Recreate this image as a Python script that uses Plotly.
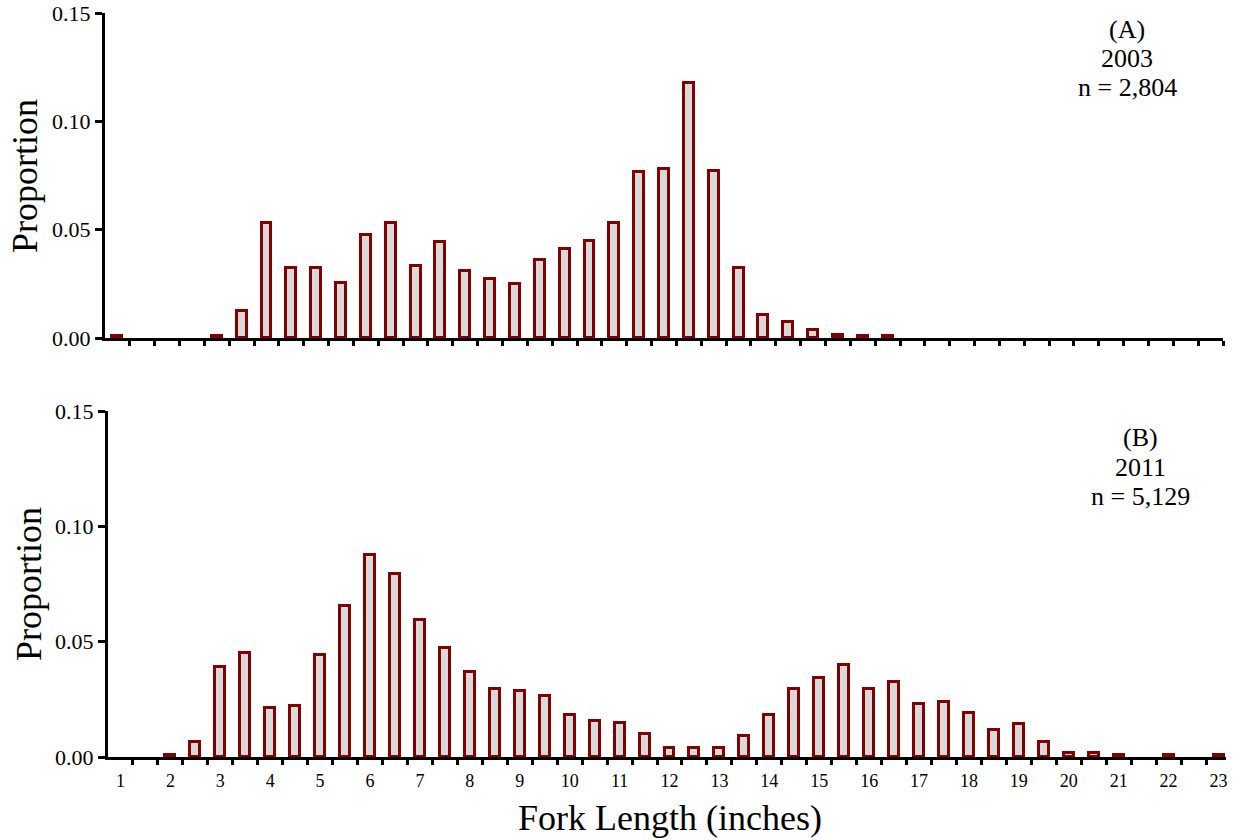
import plotly.graph_objects as go

# Fork length bins (inches), every half inch
lengths = [1 + 0.5 * i for i in range(45)]  # 1.0 .. 23.0

# Panel A (2003) proportions, keyed by bin
prop_2003 = {
    1.0: 0.0008, 3.0: 0.0008, 3.5: 0.0125, 4.0: 0.053, 4.5: 0.0325, 5.0: 0.0325,
    5.5: 0.0256, 6.0: 0.0474, 6.5: 0.053, 7.0: 0.0334, 7.5: 0.0442, 8.0: 0.031,
    8.5: 0.0273, 9.0: 0.0247, 9.5: 0.036, 10.0: 0.0413, 10.5: 0.0448, 11.0: 0.0529,
    11.5: 0.0764, 12.0: 0.0782, 12.5: 0.1178, 13.0: 0.0772, 13.5: 0.0325,
    14.0: 0.0106, 14.5: 0.0072, 15.0: 0.0035, 15.5: 0.0015, 16.0: 0.0008, 16.5: 0.0008,
}

# Panel B (2011) proportions
prop_2011 = {
    2.0: 0.0008, 2.5: 0.0066, 3.0: 0.0392, 3.5: 0.0449, 4.0: 0.0213, 4.5: 0.0221,
    5.0: 0.0442, 5.5: 0.0653, 6.0: 0.0875, 6.5: 0.0792, 7.0: 0.0596, 7.5: 0.0473,
    8.0: 0.0367, 8.5: 0.0294, 9.0: 0.0286, 9.5: 0.0263, 10.0: 0.0181, 10.5: 0.0156,
    11.0: 0.0147, 11.5: 0.0099, 12.0: 0.0041, 12.5: 0.0041, 13.0: 0.0041, 13.5: 0.009,
    14.0: 0.0181, 14.5: 0.0294, 15.0: 0.0344, 15.5: 0.0401, 16.0: 0.0294, 16.5: 0.0327,
    17.0: 0.023, 17.5: 0.0238, 18.0: 0.019, 18.5: 0.0116, 19.0: 0.0142, 19.5: 0.0067,
    20.0: 0.0016, 20.5: 0.0016, 21.0: 0.0008, 22.0: 0.0008, 23.0: 0.0008,
}

x_labels = [str(i) for i in range(1, 24)]
x_label_pos = list(range(1, 24))
y_ticks = [0, 0.05, 0.10, 0.15]
y_ticktext = ["0.00", "0.05", "0.10", "0.15"]

FILL = "#d9d9d9"
EDGE = "#7f0000"
FONT = "Liberation Serif"

W, H = 1245, 840

def px_x(p):
    return p / W

def px_y(p):
    return (H - p) / H

fig = go.Figure()

xa = sorted(prop_2003.keys())
fig.add_trace(go.Bar(x=xa, y=[prop_2003[k] for k in xa], width=0.2,
                     marker=dict(color=FILL, line=dict(color=EDGE, width=3)),
                     xaxis="x", yaxis="y", showlegend=False))
xb = sorted(prop_2011.keys())
fig.add_trace(go.Bar(x=xb, y=[prop_2011[k] for k in xb], width=0.2,
                     marker=dict(color=FILL, line=dict(color=EDGE, width=3)),
                     xaxis="x2", yaxis="y2", showlegend=False))

minor_top = [n + f for n in range(1, 24) for f in (0.25, 0.75) if n + f <= 23.25]
minor_bot = [n + f for n in range(1, 23) for f in (0.25, 0.75)]

common_y = dict(range=[0, 0.15], tickvals=y_ticks, ticktext=y_ticktext, automargin=False,
                showline=True, linecolor="black", linewidth=3, ticks="outside", ticklen=7,
                tickwidth=3, tickcolor="black", showgrid=False, zeroline=False,
                tickfont=dict(family=FONT, size=22, color="black"))

fig.update_layout(
    width=W, height=H,
    margin=dict(l=0, r=0, t=0, b=0),
    paper_bgcolor="white", plot_bgcolor="white",
    bargap=0,
    xaxis=dict(domain=[px_x(105), px_x(1223)], range=[0.75, 23.25], anchor="y", automargin=False,
               showline=True, linecolor="black", linewidth=3, showgrid=False, zeroline=False,
               tickvals=x_label_pos, ticks="", showticklabels=False,
               minor=dict(tickvals=minor_top, ticks="outside", ticklen=5, tickwidth=3, tickcolor="black", showgrid=False)),
    yaxis=dict(domain=[px_y(338), px_y(13)], anchor="x", **common_y),
    xaxis2=dict(domain=[px_x(108), px_x(1226)], range=[0.75, 23.15], anchor="y2", automargin=False,
                showline=True, linecolor="black", linewidth=3, showgrid=False, zeroline=False,
                tickvals=x_label_pos, ticktext=x_labels, ticks="", ticklabelstandoff=5,
                tickfont=dict(family=FONT, size=18, color="black"),
                minor=dict(tickvals=minor_bot, ticks="outside", ticklen=5, tickwidth=3, tickcolor="black", showgrid=False)),
    yaxis2=dict(domain=[px_y(757), px_y(411)], anchor="x2", **common_y),
)

def add_text(t, cx, cy, size, angle=0):
    fig.add_annotation(text=t, x=px_x(cx), y=px_y(cy), xref="paper", yref="paper",
                       xanchor="center", yanchor="middle", showarrow=False, textangle=angle,
                       font=dict(family=FONT, size=size, color="black"))

# axis titles
add_text("Proportion", 25, 176, 36, -90)
add_text("Proportion", 29, 584, 36, -90)
add_text("Fork Length (inches)", 670, 818, 36)

for t, yy in zip(["(A)", "2003", "n = 2,804"], [30, 59, 88]):
    add_text(t, 1127, yy, 26)
for t, yy in zip(["(B)", "2011", "n = 5,129"], [438, 467, 496]):
    add_text(t, 1140, yy, 26)

fig.write_html("out.html")
